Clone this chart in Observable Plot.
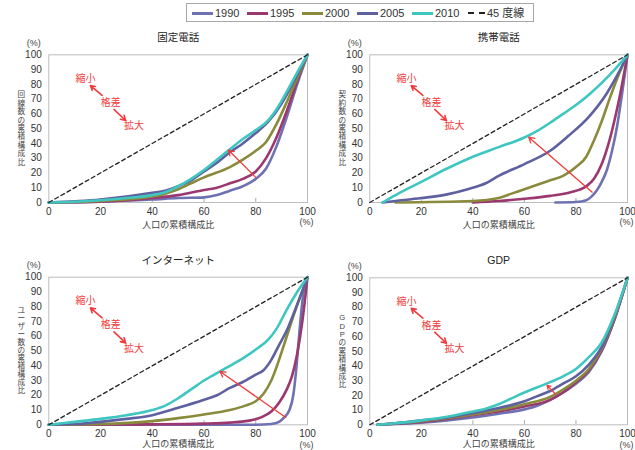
<!DOCTYPE html>
<html><head><meta charset="utf-8">
<script src="https://cdn.jsdelivr.net/npm/d3@7"></script>
<script src="https://cdn.jsdelivr.net/npm/@observablehq/plot@0.6"></script>
<style>
body{margin:0;background:#fff;font-family:"Liberation Sans","Noto Sans CJK JP",sans-serif;}
#wrap{position:relative;width:635px;height:450px;overflow:hidden;background:#fff}
.panel{position:absolute}
#legend{position:absolute;left:186px;top:3px;width:348px;height:19px;border:1px solid #a8a8a8;box-sizing:border-box;font-size:11px;color:#333}
.li{position:absolute;top:3px;height:12px;line-height:12px;white-space:nowrap}
.sw{display:inline-block;width:21px;height:0;vertical-align:middle;margin-right:2px;position:relative;top:-1px}
</style></head><body><div id="wrap"><div id="legend"></div></div>
<script>
// ---- series labels & colours ----
const years = ["1990","1995","2000","2005","2010"];
const colors = ["#6f72b2","#9b3870","#8a8a3c","#5e609f","#3fc6c0"];
const diagLabel = "45 度線";
const xTicks = [0,20,40,60,80,100];
const yTicks = [0,10,20,30,40,50,60,70,80,90,100];

// ---- 固定電話 ----
const f1990 = [[0,0],[20,0.5],[40,2],[50,3],[60,3.5],[65,5],[70,8],[75,11],[80,16],[84,23],[88,38],[92,58],[96,80],[100,100]];
const f1995 = [[0,0],[20,0.5],[40,3],[50,5],[60,8.5],[65,10],[70,13],[75,16],[80,21],[84,30],[88,44],[92,62],[96,82],[100,100]];
const f2000 = [[0,0],[20,1],[40,4],[45,6],[50,9],[55,13],[60,17],[70,24],[75,29],[80,35],[84,41],[88,53],[92,68],[96,84],[100,100]];
const f2005 = [[0,0],[20,2],[40,6.5],[45,8],[50,11],[55,15],[60,21],[65,27],[70,34],[75,40],[80,47],[85,55],[90,67],[95,83],[100,100]];
const f2010 = [[0,0],[10,0.5],[20,1.5],[30,3],[40,5],[45,7],[50,11],[55,16],[60,22],[65,29],[70,36],[75,43],[80,49],[85,56],[88,63],[92,75],[96,88],[100,100]];

// ---- 携帯電話 ----
const m1990 = [[72,0],[80,0.3],[84,1.5],[86,4],[88,8],[90,14],[92,22],[94,35],[96,52],[98,75],[100,100]];
const m1995 = [[40,0],[50,1],[60,2.5],[70,4.5],[78,7],[84,11],[87,16],[90,26],[93,42],[95,56],[97,72],[100,100]];
const m2000 = [[10,0],[40,1],[50,3],[55,6],[60,9],[65,12],[70,15],[75,18],[80,24],[84,31],[87,42],[90,55],[93,70],[96,84],[100,100]];
const m2005 = [[5,0],[10,1],[20,3],[30,5.5],[38,9],[45,13],[50,18],[60,26],[70,35],[77,45],[85,58],[92,74],[96,86],[100,100]];
const m2010 = [[5,0],[10,5],[20,14],[30,23],[40,31],[50,37.5],[60,44],[65,48.5],[70,54],[75,60],[80,66],[85,73],[90,81],[95,90],[100,100]];

// ---- インターネット ----
const i1990 = [[0,0],[80,0],[86,0.5],[89,2],[91,5],[93,10],[94.5,20],[95.5,35],[96.5,55],[97.5,75],[98.5,90],[100,100]];
const i1995 = [[0,0],[40,0.3],[60,0.8],[70,1.5],[78,3],[82,5],[86,9],[89,15],[92,24],[94,33],[96,48],[98,70],[100,100]];
const i2000 = [[0,0],[20,0.5],[40,2.5],[50,4.5],[60,7],[70,10],[76,13],[80,16],[83,21],[86,30],[89,44],[92,60],[95,76],[100,100]];
const i2005 = [[0,0],[10,0.5],[20,2],[30,4],[40,6.5],[50,11.5],[60,17],[65,20],[70,25],[75,29],[80,34],[83,37],[86,44],[89,54],[92,64],[95,77],[100,100]];
const i2010 = [[0,0],[10,2],[20,4],[30,6.5],[40,10],[45,13],[50,18],[55,24],[60,30],[66,36],[70,40],[75,45],[80,51],[85,58],[88,65],[92,78],[96,90],[100,100]];

// ---- GDP ----
const g1990 = [[3,0],[10,0.5],[20,1.5],[30,3],[40,5],[50,7.5],[60,10.5],[65,13],[70,17],[75,22],[80,28],[85,36],[90,50],[95,72],[100,100]];
const g1995 = [[3,0],[10,0.8],[20,2],[30,4],[40,6.5],[50,9],[60,12.5],[70,17],[75,22],[80,29],[85,37],[90,51],[95,72],[100,100]];
const g2000 = [[3,0],[10,1],[20,2.5],[30,4.5],[40,7],[50,10],[60,14],[70,19],[75,24],[80,30],[85,38],[90,52],[95,73],[100,100]];
const g2005 = [[3,0],[10,1],[20,3],[30,5],[40,8],[50,11.5],[60,16],[65,19.5],[70,23],[75,28],[80,33],[85,41],[90,53],[95,74],[100,100]];
const g2010 = [[3,0],[10,1],[20,3],[30,5.5],[40,9],[45,11],[50,14],[55,18],[60,22],[65,25.5],[70,29],[75,33],[80,38],[85,46],[90,56],[95,75],[100,100]];

// ---- change arrows (from → to) ----
const fixedArrow = [80,17,69.4,35.5];
const mobileArrow = [86.3,7,61.7,44.2];
const netArrow = [91.6,5,66.2,36.1];
const gdpArrow = [72,21,68.8,26.8];

// ---- 縮小/格差/拡大 annotation ----
const noteTexts = ["縮小","格差","拡大"];
const notePos = [[14.2,83.7],[23.9,67.5],[32.9,51.7]];
const noteArrows = [[20.6,72.5,16.1,79.2],[25.2,63,29.7,55.5]];

const panels = [
  {title:"固定電話", ylabel:"回線数の累積構成比", series:[f1990,f1995,f2000,f2005,f2010], arrow:fixedArrow,
   left:0, top:25, width:317, height:215, ml:48.3, mr:10, mt:29.3, mb:38, xl:23},
  {title:"携帯電話", ylabel:"契約数の累積構成比", series:[m1990,m1995,m2000,m2005,m2010], arrow:mobileArrow,
   left:320, top:25, width:315, height:215, ml:49.3, mr:8, mt:29.3, mb:38, xl:23},
  {title:"インターネット", ylabel:"ユーザー数の累積構成比", series:[i1990,i1995,i2000,i2005,i2010], arrow:netArrow,
   left:0, top:245, width:317, height:205, ml:48.3, mr:10, mt:31.7, mb:25.7, xl:19},
  {title:"GDP", ylabel:"GDPの累積構成比", series:[g1990,g1995,g2000,g2005,g2010], arrow:gdpArrow,
   left:320, top:245, width:315, height:205, ml:49.3, mr:8, mt:32.3, mb:25.7, xl:19}
];

const red = "#f03c3c";
const font = "'Liberation Sans','Noto Sans CJK JP',sans-serif";
const wrap = document.getElementById("wrap");

for (const p of panels) {
  const rows = [];
  p.series.forEach((s, k) => s.forEach(([x, y]) => rows.push({x, y, year: years[k]})));
  const chars = Array.from(p.ylabel);
  const step = chars.length > 9 ? 8.0 : 8.4;
  const ylabRows = chars.map((c, i) => ({c, off: (i - (chars.length - 1) / 2) * step}));
  const chart = Plot.plot({
    width: p.width, height: p.height,
    marginLeft: p.ml, marginRight: p.mr, marginTop: p.mt, marginBottom: p.mb,
    style: {fontFamily: font, fontSize: "10px", color: "#333", background: "transparent", overflow: "visible"},
    x: {domain: [0, 100], ticks: xTicks, tickSize: 0, tickPadding: 5, label: null},
    y: {domain: [0, 100], ticks: yTicks, tickSize: 0, tickPadding: 7, label: null},
    color: {domain: years, range: colors},
    marks: [
      Plot.frame({stroke: "#bdbdbd"}),
      Plot.ruleX([20, 40, 60, 80], {y1: 0, y2: 2.8, stroke: "#aaa"}),
      Plot.line(rows, {x: "x", y: "y", z: "year", stroke: "year", strokeWidth: 2.6, curve: "monotone-x"}),
      Plot.line([[0, 0], [100, 100]], {stroke: "#222", strokeWidth: 1.3, strokeDasharray: "4,3"}),
      Plot.arrow([p.arrow], {x1: d => d[0], y1: d => d[1], x2: d => d[2], y2: d => d[3], stroke: red, strokeWidth: 1.3, headLength: 7}),
      Plot.arrow(noteArrows, {x1: d => d[0], y1: d => d[1], x2: d => d[2], y2: d => d[3], stroke: red, strokeWidth: 1.6, headLength: 6}),
      Plot.text(notePos, {x: d => d[0], y: d => d[1], text: (d, i) => noteTexts[i], fill: red, fontSize: 10}),
      Plot.text([p.title], {x: 50, y: 100, dy: -17, text: d => d, fontSize: 10.5, fill: "#222"}),
      ...ylabRows.map(r => Plot.text([r.c], {x: 0, y: 50, dx: -27.6, dy: r.off, text: d => d, fontSize: 7.6, fill: "#444"})),
      Plot.text(["(%)"], {x: 0, y: 100, dx: -15, dy: -12, text: d => d, fontSize: 9, fill: "#444"}),
      Plot.text(["(%)"], {x: 100, y: 0, dx: -1, dy: 20, text: d => d, fontSize: 9, fill: "#444"}),
      Plot.text(["人口の累積構成比"], {x: 50, y: 0, dy: p.xl, text: d => d, fontSize: 9, fill: "#444"})
    ]
  });
  chart.classList.add("panel");
  chart.style.left = p.left + "px";
  chart.style.top = p.top + "px";
  wrap.appendChild(chart);
}

// legend
const legend = document.getElementById("legend");
const lx = [5, 60, 115, 170, 225];
years.forEach((y, i) => {
  const d = document.createElement("div");
  d.className = "li"; d.style.left = lx[i] + "px";
  d.innerHTML = `<span class="sw" style="border-top:3px solid ${colors[i]}"></span>${y}`;
  legend.appendChild(d);
});
const dd = document.createElement("div");
dd.className = "li"; dd.style.left = "281px";
dd.innerHTML = `<span class="sw" style="width:17px;border-top:2px dashed #222"></span>${diagLabel}`;
legend.appendChild(dd);
</script></body></html>
